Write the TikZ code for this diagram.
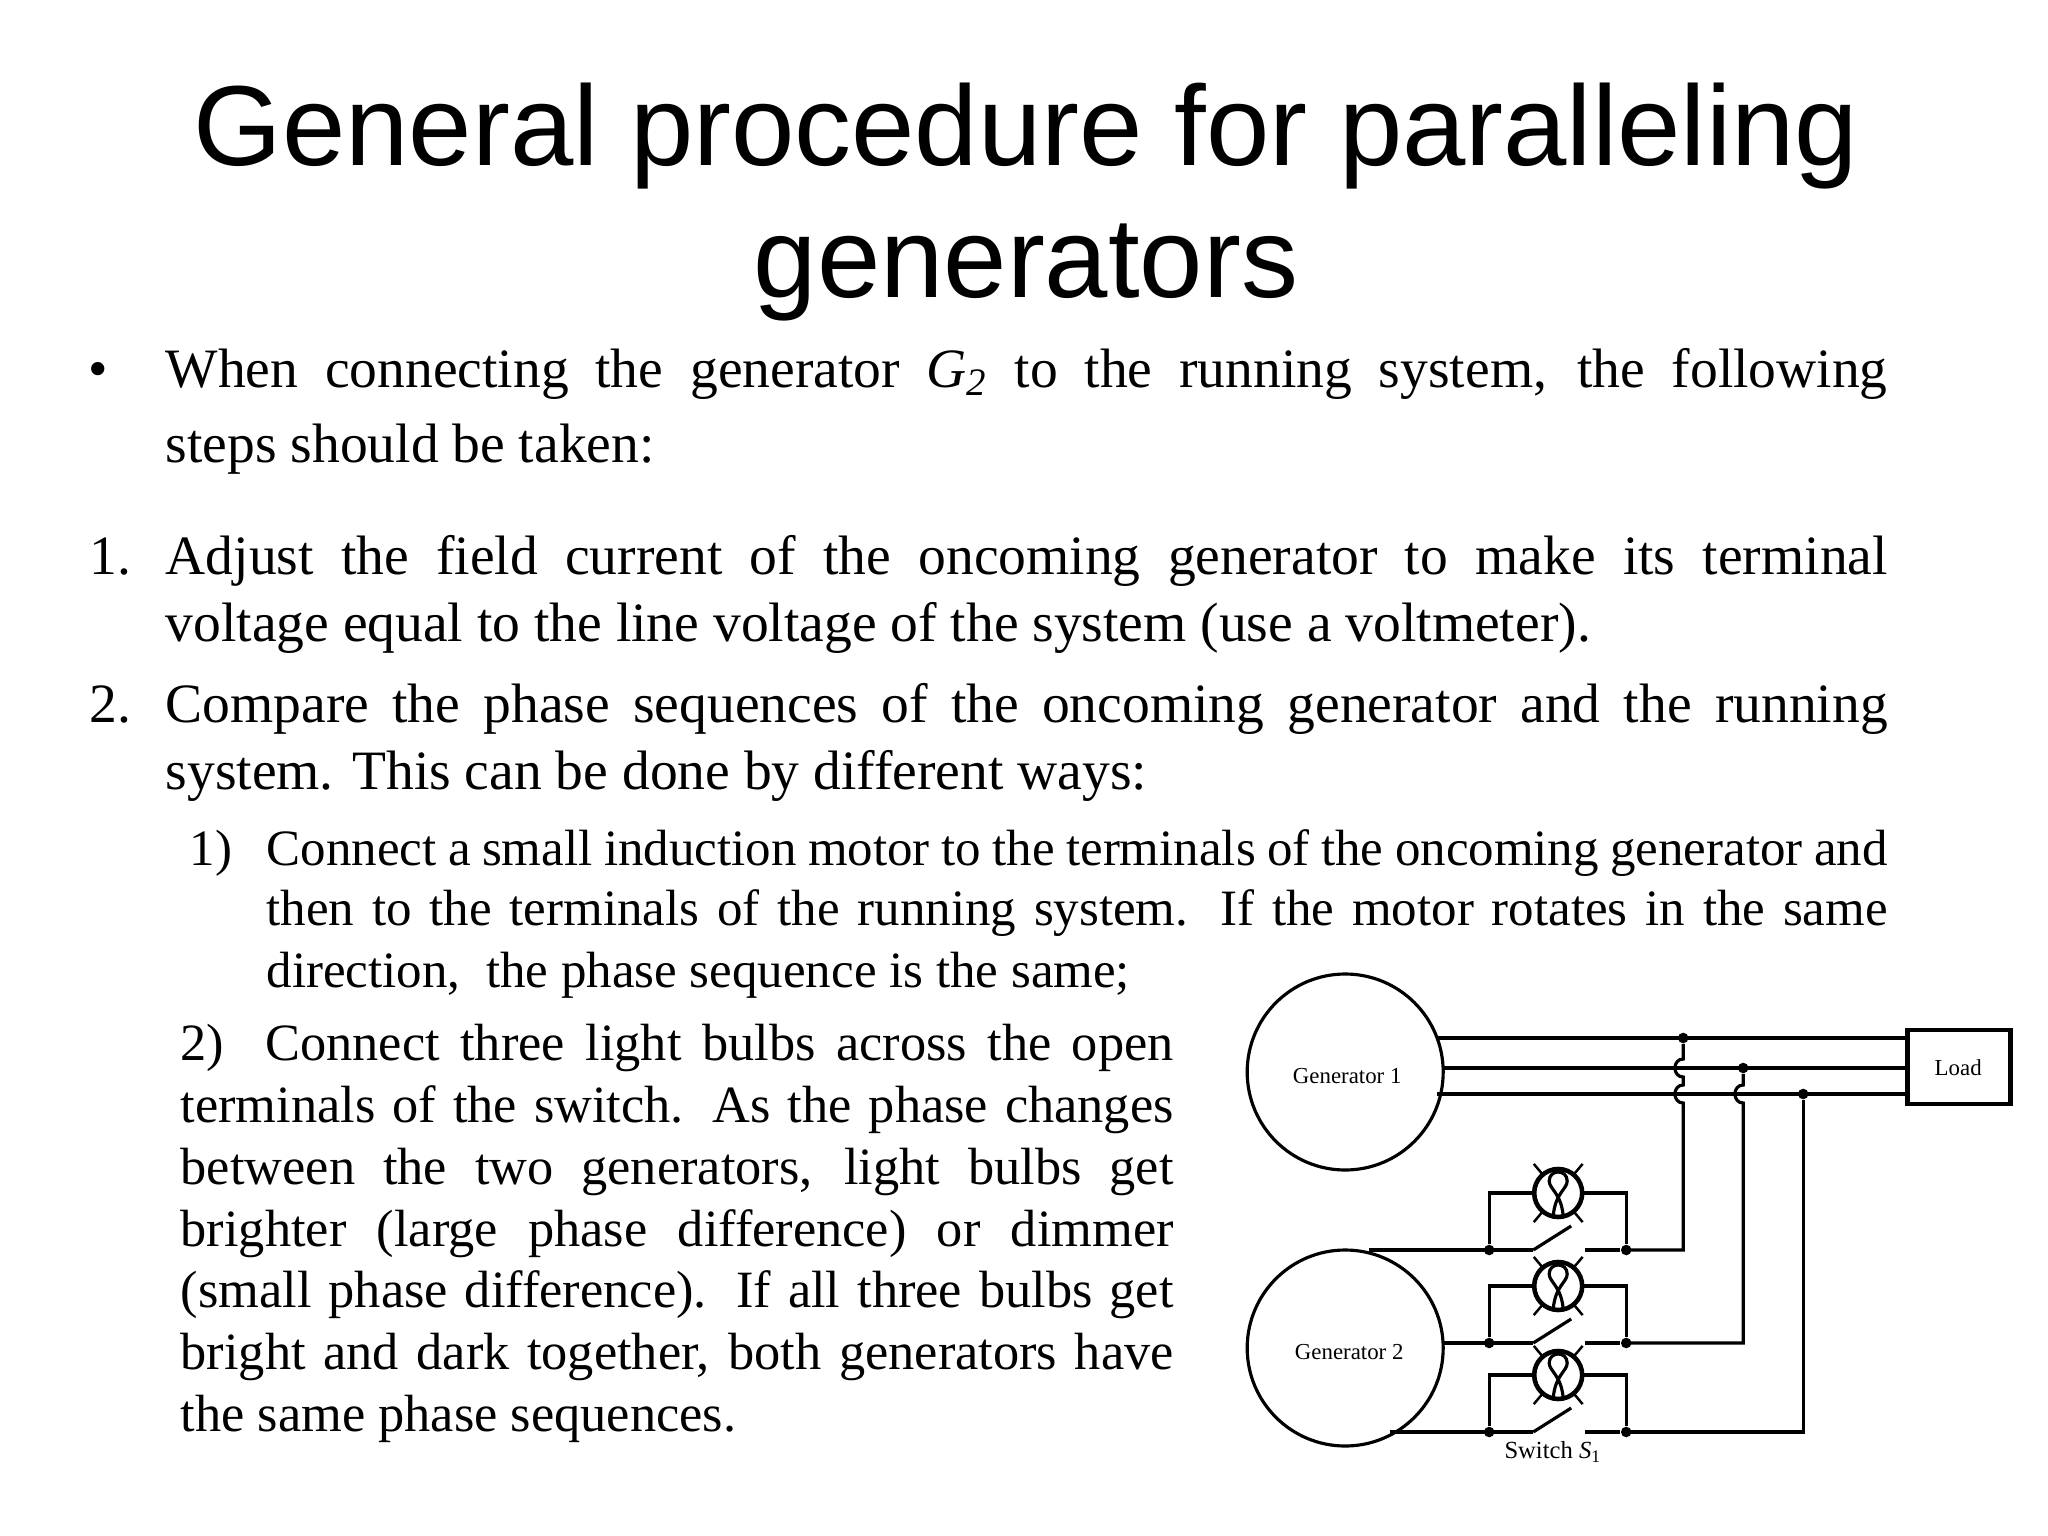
\documentclass[tikz,border=0pt]{standalone}
\usepackage{fontspec}
\usetikzlibrary{calc}
\setmainfont{Liberation Serif}
\newfontfamily\titlefont{Liberation Sans}
\newdimen\pxu \pxu=0.2845pt
\newcommand\jl[4]{\node[anchor=base west,inner sep=0] (#1) at (#2) {\makebox[#3\pxu][s]{#4}};}
\newcommand\tl[3]{\node[anchor=base west,inner sep=0] (#1) at (#2) {#3};}
\begin{document}
\begin{tikzpicture}[x=0.2845pt,y=-0.2845pt,
  wire/.style={line width=0.9pt},
  dotc/.style={circle,fill,inner sep=0,minimum size=3pt},
  lbl/.style={font=\fontsize{6.5}{7}\selectfont,inner sep=0}]
\useasboundingbox (0,0) rectangle (2048,1536);
\fill[white] (0,0) rectangle (2048,1536);
% title
\node[font=\titlefont\fontsize{32.4}{38}\selectfont,anchor=base,inner sep=0] (t1) at (1026,165) {General procedure for paralleling};
\node[font=\titlefont\fontsize{32.4}{38}\selectfont,anchor=base,inner sep=0] (t2) at (1026,297) {generators};
\begin{scope}[font=\fontsize{15.8}{19}\selectfont]
\tl{b0}{88,387}{\textbullet}
\jl{a1}{165,387}{1722}{When connecting the generator {\itshape G\textsubscript{2}} to the running system, the following}
\tl{a2}{165,462}{steps should be taken:}
\tl{n1}{89,574}{1.}
\jl{b1}{165,574}{1722}{Adjust the field current of the oncoming generator to make its terminal}
\tl{b2}{165,641}{voltage equal to the line voltage of the system (use a voltmeter).}
\tl{n2}{89,722}{2.}
\jl{c1}{165,722}{1722}{Compare the phase sequences of the oncoming generator and the running}
\tl{c2}{165,789}{system. This can be done by different ways:}
\end{scope}
\begin{scope}[font=\fontsize{14.5}{18}\selectfont]
\tl{m1}{189,865}{1)}
\jl{d1}{266,865}{1621}{Connect a small induction motor to the terminals of the oncoming generator and}
\jl{d2}{266,925}{1621}{then to the terminals of the running system. If the motor rotates in the same}
\tl{d3}{266,987}{direction,\ \ the phase sequence is the same;}
\end{scope}
\begin{scope}[font=\fontsize{14.9}{18}\selectfont]
\jl{e1}{180,1060}{993}{2)\ \ Connect three light bulbs across the open}
\jl{e2}{180,1122}{993}{terminals of the switch. As the phase changes}
\jl{e3}{180,1184}{993}{between the two generators, light bulbs get}
\jl{e4}{180,1246}{993}{brighter (large phase difference) or dimmer}
\jl{e5}{180,1307}{993}{(small phase difference). If all three bulbs get}
\jl{e6}{180,1369}{993}{bright and dark together, both generators have}
\tl{e7}{180,1431}{the same phase sequences.}
\end{scope}
% circuit
\begin{scope}[xshift=-0.8pt]
\draw[wire] (1348,1072) circle (98);
\draw[wire] (1348,1348) circle (98);
\node[lbl] (g1) at (1350,1076) {Generator 1};
\node[lbl] (g2) at (1352,1352) {Generator 2};
\draw[line width=1.4pt] (1910,1030) rectangle (2013,1104);
\node[lbl] (ld) at (1961,1068) {Load};
\coordinate (L1) at (1910,1038);
\coordinate (L2) at (1910,1068);
\coordinate (L3) at (1910,1094);
\draw[wire] (1440,1038) -- (L1);
\draw[wire] (1446,1068) -- (L2);
\draw[wire] (1440,1094) -- (L3);
\node[dotc] (j1) at (1686,1038) {};
\node[dotc] (j2) at (1746,1068) {};
\node[dotc] (j3) at (1806,1094) {};
\draw[wire] (j1) -- (1686,1059) .. controls (1675,1059) and (1675,1077) .. (1686,1077)
  -- (1686,1085) .. controls (1675,1085) and (1675,1103) .. (1686,1103) -- (1686,1250) -- (1629,1250);
\draw[wire] (j2) -- (1746,1085) .. controls (1735,1085) and (1735,1103) .. (1746,1103) -- (1746,1343) -- (1629,1343);
\draw[wire] (j3) -- (1806,1432) -- (1629,1432);
\draw[wire] (1372,1250) -- (1536,1250);
\draw[wire] (1446,1343) -- (1536,1343);
\draw[wire] (1393,1432) -- (1536,1432);
\foreach \y/\n in {1250/a,1343/b,1432/c}{
  \node[dotc] (sl\n) at (1492,\y) {};
  \node[dotc] (sr\n) at (1629,\y) {};
  \draw[wire] (1536,\y) -- (1574,\y-24);
  \draw[wire] (1588,\y) -- (sr\n);
  \pgfmathsetmacro\cy{\y-57}
  \coordinate (bc\n) at (1561,\cy);
  \draw[wire] (sl\n) -- (1492,\cy) -- (1537,\cy);
  \draw[wire] (1585,\cy) -- (1629,\cy) -- (sr\n);
  \draw[line width=1.3pt] (bc\n) circle (24);
  \draw[wire] ($(bc\n)+(-5,23)$) .. controls ($(bc\n)+(-3,0)$) and ($(bc\n)+(9,-4)$) .. ($(bc\n)+(9,-12)$)
     .. controls ($(bc\n)+(9,-24)$) and ($(bc\n)+(-9,-24)$) .. ($(bc\n)+(-9,-12)$)
     .. controls ($(bc\n)+(-9,-4)$) and ($(bc\n)+(3,0)$) .. ($(bc\n)+(5,23)$);
  \foreach \a in {50,130,230,310}{
    \draw[line width=0.7pt] ($(bc\n)+(\a:25)$) -- ($(bc\n)+(\a:38)$);}
}
\node[lbl,font=\fontsize{7}{8}\selectfont] (sw) at (1556,1452) {Switch \textit{S}\textsubscript{1}};
\end{scope}
\end{tikzpicture}
\end{document}
